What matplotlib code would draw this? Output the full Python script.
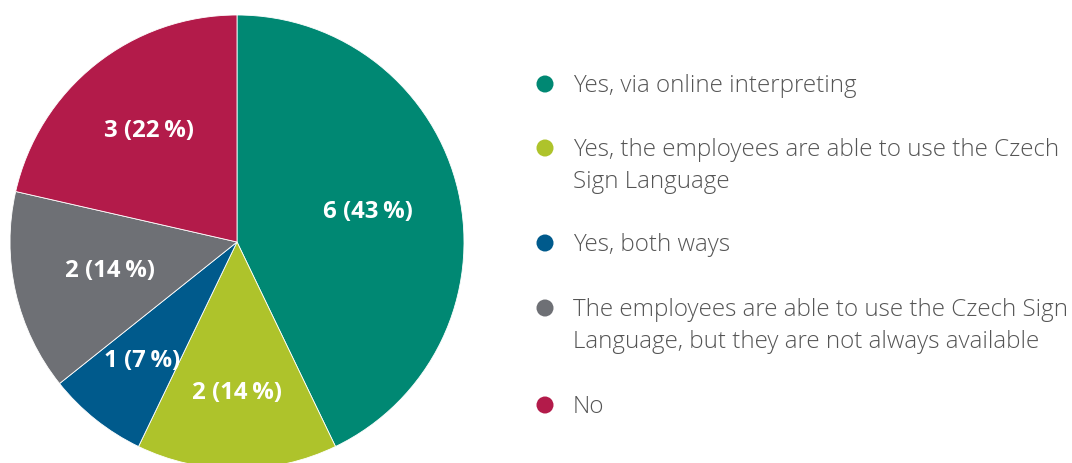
import numpy as np
import matplotlib.pyplot as plt

# --- Survey answers ---
answers = [
    "Yes, via online interpreting",
    "Yes, the employees are able to use the Czech\nSign Language",
    "Yes, both ways",
    "The employees are able to use the Czech Sign\nLanguage, but they are not always available",
    "No",
]
counts = [6, 2, 1, 2, 3]
percent = [43, 14, 7, 14, 22]
colors = ["#008873", "#aec32b", "#005a8c", "#6e7075", "#b31b4a"]

# label radius (fraction of pie radius) per wedge
label_r = [0.59, 0.665, 0.67, 0.575, 0.625]

plt.rcParams["font.family"] = ["Open Sans", "DejaVu Sans"]

fig = plt.figure(figsize=(10.72, 4.63), dpi=100)

# pie axes
ax = fig.add_axes([10 / 1072, -6 / 463, 454 / 1072, 454 / 463])
wedges, _ = ax.pie(counts, colors=colors, startangle=90, counterclock=False,
                   wedgeprops=dict(edgecolor="white", linewidth=0.6))
ax.set_xlim(-1, 1)
ax.set_ylim(-1, 1)
ax.set_aspect("equal")

for w, n, p, r in zip(wedges, counts, percent, label_r):
    mid = np.deg2rad((w.theta1 + w.theta2) / 2)
    ax.text(r * np.cos(mid), r * np.sin(mid), f"{n} ({p}\u2009%)",
            ha="center", va="center", color="white",
            fontsize=17.3, fontweight="bold")

# legend drawn by hand in pixel coords
lax = fig.add_axes([0, 0, 1, 1])
lax.set_xlim(0, 1072)
lax.set_ylim(463, 0)
lax.axis("off")

row_y = [84, 148, 243, 308, 405]
for y, c, txt in zip(row_y, colors, answers):
    lax.scatter([545], [y], s=150, color=c, edgecolors="none")
    lax.text(573, y - 10, txt, ha="left", va="top", color="#555555",
             fontsize=17.4, fontweight="light", linespacing=1.42)

fig.savefig("out.png", dpi=100)
